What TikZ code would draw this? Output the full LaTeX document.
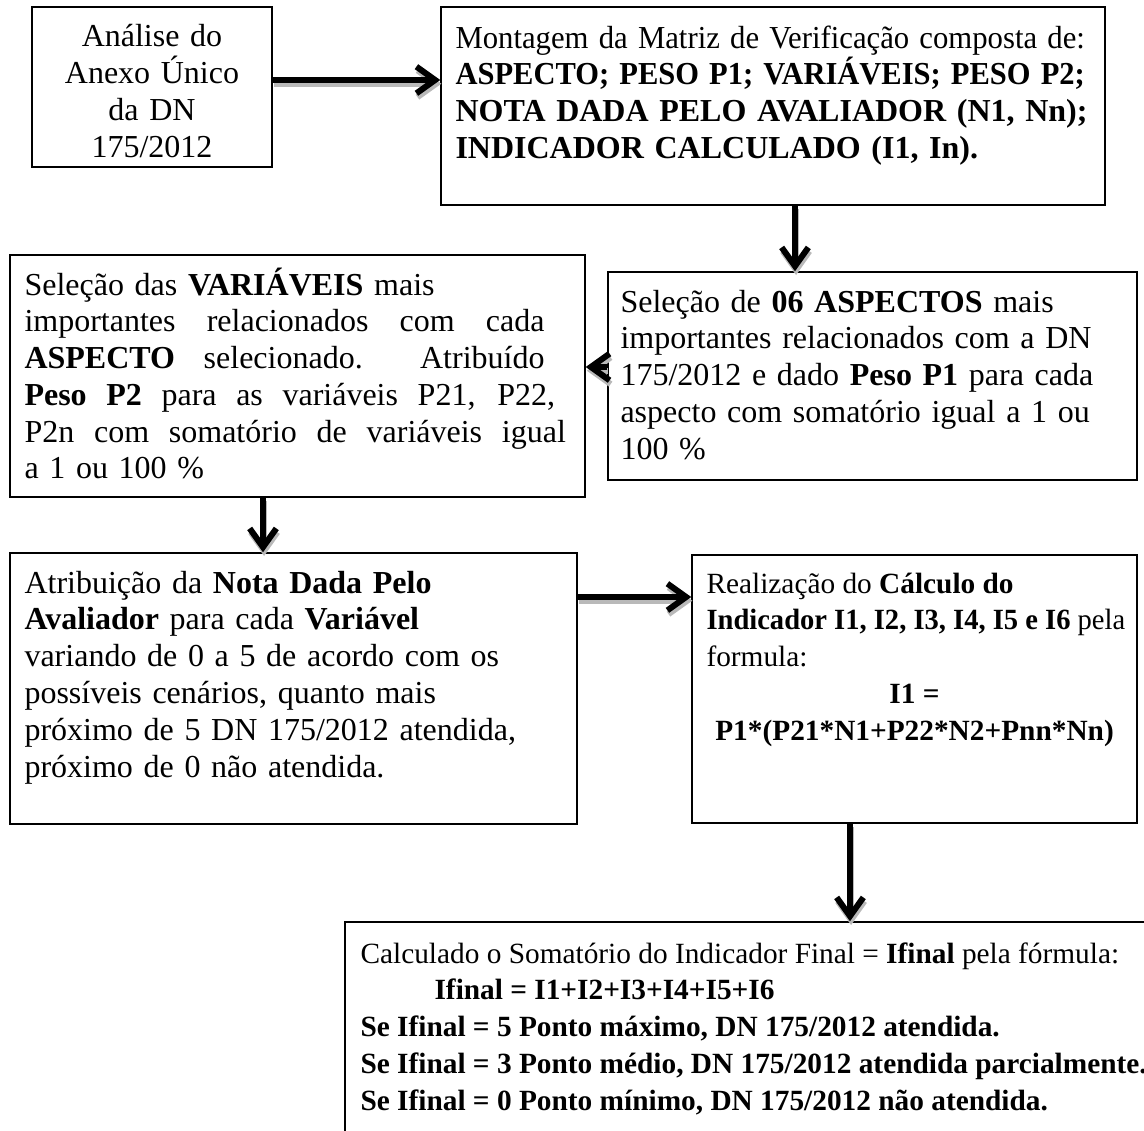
\documentclass[tikz,border=0pt]{standalone}
\usepackage{fontspec}
\usepackage{graphicx}
\setmainfont{Liberation Serif}
\usetikzlibrary{arrows.meta,calc,shadows}

\tikzset{
  box/.style={draw=black, line width=0.55pt, fill=white, inner sep=0pt,
    drop shadow={shadow xshift=0.55pt, shadow yshift=-0.55pt, fill=gray!70, opacity=1}},
  txt/.style={anchor=base west, inner sep=0pt, align=left,
    font=\fontsize{12pt}{13.8pt}\selectfont},
  smalltxt/.style={txt, font=\fontsize{11pt}{13.8pt}\selectfont},
  flow/.style={line width=2.25pt, -{Straight Barb[length=7pt,width=10pt]}},
  flowshadow/.style={flow, draw=gray!55},
}
% thick arrow with a soft grey shadow underneath
\newcommand\flowline[2]{%
  \draw[flowshadow, transform canvas={xshift=0.4pt,yshift=-1.4pt}] #1 -- #2;
  \draw[flow] #1 -- #2;}
% a justified line of a given width
\newcommand\jline[2]{{\spaceskip=0.3333em plus 1fil\relax\makebox[#1][s]{#2}}}
% the font's own interword spacing
\newcommand\tightsp{\spaceskip=0pt\xspaceskip=0pt\relax}

\begin{document}
\begin{tikzpicture}[x=0.375pt, y=-0.375pt]
\clip (0,0) rectangle (1144,1131);

% boxes
\node[box, minimum width=240*0.375pt, minimum height=160*0.375pt] (A) at (152,87) {};
\node[box, minimum width=664*0.375pt, minimum height=198*0.375pt] (B) at (773,106) {};
\node[box, minimum width=529*0.375pt, minimum height=208*0.375pt] (C) at (872.5,376) {};
\node[box, minimum width=575*0.375pt, minimum height=242*0.375pt] (D) at (297.5,376) {};
\node[box, minimum width=567*0.375pt, minimum height=271*0.375pt] (E) at (293.5,688.5) {};
\node[box, minimum width=445*0.375pt, minimum height=268*0.375pt] (F) at (914.5,689) {};
\node[box, minimum width=815*0.375pt, minimum height=228*0.375pt] (G) at (752.5,1036) {};

% texts
\node[txt, anchor=base, align=center, text width=90pt] (At) at (152,47)
  {Análise do\\Anexo Único\\da DN\\175/2012};

\node[txt, text width=250pt] (Bt) at (455,48)
  {\resizebox{236pt}{\height}{Montagem da Matriz de Verificação composta de:}\\
   \resizebox{236pt}{\height}{\textbf{ASPECTO; PESO P1; VARIÁVEIS; PESO P2;}}\\
   \textbf{NOTA DADA PELO AVALIADOR (N1, Nn);}\\
   \textbf{INDICADOR CALCULADO (I1, In).}};

\node[txt, text width=195pt] (Ct) at (620,312)
  {Seleção de \textbf{06 ASPECTOS} mais\\
   importantes relacionados com a DN\\
   175/2012 e dado \textbf{Peso P1} para cada\\
   aspecto com somatório igual a 1 ou\\
   100 \%};

\node[txt, text width=212pt] (Dt) at (24,295)
  {Seleção das \textbf{VARIÁVEIS} mais\\
   \jline{195pt}{importantes relacionados com cada}\\
   \jline{195pt}{\textbf{ASPECTO} selecionado.\ \ Atribuído}\\
   \jline{199pt}{\textbf{Peso P2} para as variáveis P21, P22,}\\
   \jline{203pt}{P2n com somatório de variáveis igual}\\
   a 1 ou 100 \%};

\node[txt, text width=208pt] (Et) at (24,593)
  {Atribuição da \textbf{Nota Dada Pelo}\\
   \textbf{Avaliador} para cada \textbf{Variável}\\
   variando de 0 a 5 de acordo com os\\
   possíveis cenários, quanto mais\\
   próximo de 5 DN 175/2012 atendida,\\
   próximo de 0 não atendida.};

\node[smalltxt, text width=170pt] (Ft) at (706,593)
  {\tightsp Realização do \textbf{Cálculo do}\\
   \resizebox{157pt}{\height}{\textbf{Indicador I1, I2, I3, I4, I5 e I6} pela}\\
   formula:\\
   \makebox[156pt][c]{\textbf{I1 =}}\\
   \makebox[156pt][c]{\textbf{P1*(P21*N1+P22*N2+Pnn*Nn)}}};

\node[smalltxt, text width=320pt] (Gt) at (360,963)
  {\tightsp Calculado o Somatório do Indicador Final = \textbf{Ifinal} pela fórmula:\\
   \makebox[183pt][c]{\textbf{Ifinal = I1+I2+I3+I4+I5+I6}}\\
   \textbf{Se Ifinal = 5 Ponto máximo, DN 175/2012 atendida.}\\
   \textbf{Se Ifinal = 3 Ponto médio, DN 175/2012 atendida parcialmente.}\\
   \textbf{Se Ifinal = 0 Ponto mínimo, DN 175/2012 não atendida.}};

% connector rows and columns
\coordinate (ab) at (0,80);
\coordinate (bc) at (795,0);
\coordinate (cd) at (0,367);
\coordinate (de) at (263,0);
\coordinate (ef) at (0,597);
\coordinate (fg) at (850,0);

\flowline{(A.east |- ab)}{(B.west |- ab)}
\flowline{(B.south -| bc)}{(C.north -| bc)}
\flowline{(C.west |- cd)}{(D.east |- cd)}
\flowline{(D.south -| de)}{(E.north -| de)}
\flowline{(E.east |- ef)}{(F.west |- ef)}
\flowline{(F.south -| fg)}{(G.north -| fg)}
\end{tikzpicture}
\end{document}
